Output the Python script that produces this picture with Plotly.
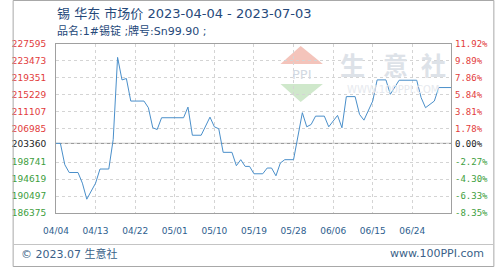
import plotly.graph_objects as go

# ---------------- data ----------------
dates = ["2023-04-04", "2023-04-05", "2023-04-06", "2023-04-07", "2023-04-09", "2023-04-10",
         "2023-04-11", "2023-04-13", "2023-04-14", "2023-04-16", "2023-04-17", "2023-04-18",
         "2023-04-19", "2023-04-20", "2023-04-21", "2023-04-24", "2023-04-25", "2023-04-26",
         "2023-04-27", "2023-04-28", "2023-05-03", "2023-05-04", "2023-05-05", "2023-05-07",
         "2023-05-09", "2023-05-10", "2023-05-11", "2023-05-12", "2023-05-14", "2023-05-15",
         "2023-05-16", "2023-05-17", "2023-05-18", "2023-05-19", "2023-05-21", "2023-05-22",
         "2023-05-23", "2023-05-24", "2023-05-25", "2023-05-26", "2023-05-28", "2023-05-29",
         "2023-05-30", "2023-05-31", "2023-06-01", "2023-06-02", "2023-06-04", "2023-06-05",
         "2023-06-06", "2023-06-07", "2023-06-08", "2023-06-09", "2023-06-11", "2023-06-12",
         "2023-06-13", "2023-06-14", "2023-06-15", "2023-06-16", "2023-06-18", "2023-06-19",
         "2023-06-20", "2023-06-21", "2023-06-25", "2023-06-26", "2023-06-27", "2023-06-29",
         "2023-06-30", "2023-07-03"]
prices = [203360, 203360, 198150, 196250, 196250, 193660, 189740, 193660, 197100, 197100,
          204290, 224330, 218840, 219180, 213680, 213680, 212060, 207160, 206740, 209610,
          209610, 212210, 205340, 205340, 209760, 207400, 206910, 201170, 201170, 197910,
          199380, 197740, 197740, 195940, 195940, 197340, 197340, 195450, 198570, 199380,
          199380, 205000, 210840, 207400, 207970, 210000, 210000, 207400, 208780, 210180,
          207160, 214760, 214760, 210420, 209020, 211230, 213680, 218840, 218840, 215330,
          216970, 218760, 218760, 214520, 212060, 213680, 216970, 216970]

base_price = 203360
price_ticks = [227595, 223473, 219351, 215229, 211107, 206985, 203360, 198741, 194619, 190497, 186375]
pct_labels = ["11.92%", "9.89%", "7.86%", "5.84%", "3.81%", "1.78%", "0.00%",
              "-2.27%", "-4.30%", "-6.33%", "-8.35%"]

title_text = "锡 华东 市场价 2023-04-04 - 2023-07-03"
subtitle_text = "品名:1#锡锭 ;牌号:Sn99.90 ;"
footer_left = "© 2023.07 生意社"
footer_right = "www.100PPI.com"

# ---------------- layout geometry ----------------
W, H = 500, 267
ML, MR, MT, MB = 45, 45, 44, 54
PW, PH = W - ML - MR, H - MT - MB


def px(x):
    return (x - ML) / PW


def py(y):
    return (H - MB - y) / PH


RED, GREEN, BLACK = "#e23b3b", "#3d9e3d", "#222222"


def tick_color(v):
    if v > base_price:
        return RED
    if v < base_price:
        return GREEN
    return BLACK


left_text = [f'<span style="color:{tick_color(v)}">{v}</span>' for v in price_ticks]
right_text = [f'<span style="color:{tick_color(v)}">{t}</span>' for v, t in zip(price_ticks, pct_labels)]

fig = go.Figure()
fig.add_trace(go.Scatter(x=dates, y=prices, mode="lines",
                         line=dict(color="#4a8fca", width=1), hoverinfo="skip",
                         showlegend=False))
fig.add_trace(go.Scatter(x=dates, y=prices, mode="lines", yaxis="y2",
                         line=dict(color="rgba(0,0,0,0)", width=0), hoverinfo="skip",
                         showlegend=False))

yr = [min(price_ticks), max(price_ticks)]

fig.update_layout(
    width=W, height=H,
    margin=dict(l=ML, r=MR, t=MT, b=MB, pad=0),
    paper_bgcolor="white", plot_bgcolor="white",
    xaxis=dict(
        type="date", range=["2023-04-04", "2023-07-02 19:00"],
        tick0="2023-04-04", dtick=9 * 86400000, tickformat="%m/%d",
        showgrid=True, gridcolor="#d4d4d4", griddash="dot", gridwidth=1,
        showline=True, linecolor="#a0a0a0", linewidth=1, mirror=True,
        ticks="", ticklabelstandoff=9,
        tickfont=dict(family="DejaVu Sans", size=9, color="#2e5e8e"),
        zeroline=False, fixedrange=True,
    ),
    yaxis=dict(
        range=yr, tickvals=price_ticks, ticktext=left_text,
        showgrid=True, gridcolor="#d4d4d4", griddash="dot", gridwidth=1,
        showline=True, linecolor="#a0a0a0", linewidth=1, mirror=True,
        ticks="", ticklabelstandoff=7,
        tickfont=dict(family="DejaVu Sans", size=9, color=BLACK),
        zeroline=False, fixedrange=True,
    ),
    yaxis2=dict(
        range=yr, tickvals=price_ticks, ticktext=right_text,
        overlaying="y", side="right", showgrid=False,
        ticks="", ticklabelstandoff=3,
        tickfont=dict(family="DejaVu Sans Mono", size=9, color=BLACK),
        zeroline=False, fixedrange=True,
    ),
)

shapes = []
# base line (0%)
shapes.append(dict(type="line", xref="paper", yref="y", x0=0, x1=1, y0=base_price, y1=base_price,
                   line=dict(color="#8c8c8c", width=1), layer="between"))
# watermark house icon
shapes.append(dict(type="path", xref="paper", yref="paper", layer="below",
                   path=f"M {px(278)} {py(64)} L {px(299)} {py(46)} L {px(322)} {py(64)} Z",
                   fillcolor="#f4c4bb", line=dict(width=0)))
shapes.append(dict(type="path", xref="paper", yref="paper", layer="below",
                   path=f"M {px(278)} {py(84)} L {px(322)} {py(84)} L {px(299)} {py(102)} Z",
                   fillcolor="#cfe8cb", line=dict(width=0)))
# outer frame + footer separator
shapes.append(dict(type="rect", xref="paper", yref="paper",
                   x0=px(0.5), x1=px(W - 0.5), y0=py(0.5), y1=py(H - 0.5),
                   line=dict(color="#a8a8a8", width=1)))
shapes.append(dict(type="line", xref="paper", yref="paper",
                   x0=px(1), x1=px(W - 1), y0=py(244.5), y1=py(244.5),
                   line=dict(color="#c4c4c4", width=1)))
fig.update_layout(shapes=shapes)

cjk = "DejaVu Sans, Noto Sans CJK SC"
ann = []
ann.append(dict(text=title_text, xref="paper", yref="paper", x=px(44), y=py(14),
                xanchor="left", yanchor="middle", showarrow=False,
                font=dict(family=cjk, size=13, color="#26497a")))
ann.append(dict(text=subtitle_text, xref="paper", yref="paper", x=px(44), y=py(31),
                xanchor="left", yanchor="middle", showarrow=False,
                font=dict(family=cjk, size=11, color="#26497a")))
ann.append(dict(text=footer_left, xref="paper", yref="paper", x=px(7), y=py(254),
                xanchor="left", yanchor="middle", showarrow=False,
                font=dict(family=cjk, size=11, color="#3a5f88")))
ann.append(dict(text=footer_right, xref="paper", yref="paper", x=px(491), y=py(254),
                xanchor="right", yanchor="middle", showarrow=False,
                font=dict(family="DejaVu Sans", size=11, color="#3a5f88")))
# watermark text
ann.append(dict(text="PPI", xref="paper", yref="paper", x=px(300), y=py(74),
                xanchor="center", yanchor="middle", showarrow=False,
                font=dict(family="DejaVu Sans", size=13, color="#d3d9e2")))
for ch, cx in zip(["生", "意", "社"], [353, 397, 437]):
    ann.append(dict(text=ch, xref="paper", yref="paper", x=px(cx), y=py(64),
                    xanchor="center", yanchor="middle", showarrow=False,
                    font=dict(family="Noto Sans CJK SC", size=25, color="#dde2e8", weight="bold")))
ann.append(dict(text="WWW.100PPI.COM", xref="paper", yref="paper", x=px(395), y=py(89),
                xanchor="center", yanchor="middle", showarrow=False,
                font=dict(family="DejaVu Sans", size=10, color="#e6e9ee")))
fig.update_layout(annotations=ann)

fig.write_html("out.html")
